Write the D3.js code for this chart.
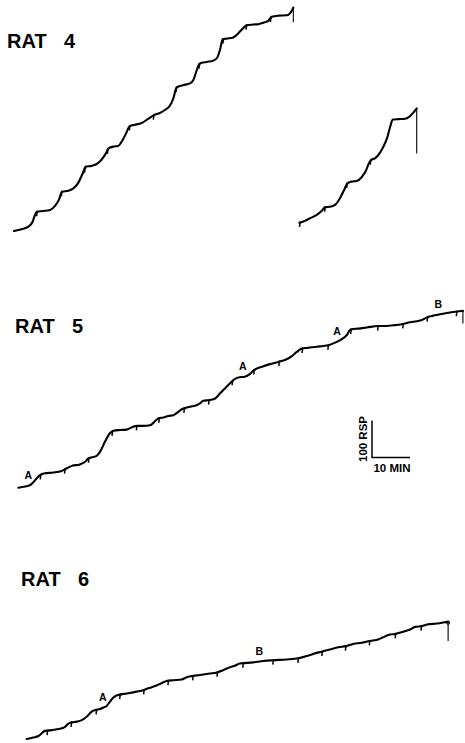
<!DOCTYPE html>
<html>
<head>
<meta charset="utf-8">
<script src="https://cdn.jsdelivr.net/npm/d3@7"></script>
<style>
  body { margin: 0; background: #fff; }
  #container { width: 465px; height: 743px; }
</style>
</head>
<body>
<div id="container"></div>
<script>
// cumulative records: [minutes, responses] measured from the start of each record
const rat4First = [[0,0],[2.0,5],[3.8,12],[4.9,25],[5.5,43],[6.0,52],[7.7,54],[9.5,57],[10.8,68],[11.9,86],[12.6,106],
  [14.3,109],[15.6,115],[16.9,130],[18.1,156],[18.9,174],[20.4,176],[22.2,184],[23.5,199],[24.4,214],[24.8,223],
  [26.1,228],[27.4,230],[28.6,246],[29.5,264],[30.5,284],[31.8,287],[33.6,292],[35.3,303],[36.8,313],[38.4,319],
  [39.7,327],[41.1,340],[41.9,358],[42.8,388],[44.4,394],[46.3,399],[47.2,408],[48.1,435],[48.9,453],[50.7,457],
  [52.4,460],[53.5,469],[54.2,489],[54.9,518],[56.0,520],[57.7,523],[59.0,534],[60.3,548],[61.2,556],[63.0,558],
  [64.3,559],[65.6,563],[66.9,568],[67.8,579],[69.6,582],[71.8,583],[72.4,586],[73.1,595],[73.5,604]];
const rat4FirstPips = [6.1, 12.6, 18.7, 24.7, 30.5, 36.8, 42.8, 48.8, 55.1, 61.2, 67.6];
const rat4FirstReset = 564;

const rat4Second = [[0,0],[1.5,5],[2.8,12],[4.6,21],[5.9,32],[6.8,42],[8.1,43],[9.4,48],[10.7,66],[12.0,93],[12.6,106],
  [13.8,111],[15.1,113],[16.4,123],[17.6,142],[18.2,158],[18.8,169],[19.9,174],[20.8,183],[22.1,205],[23.2,232],
  [23.9,259],[24.6,279],[26.1,280],[27.8,281],[28.9,286],[30.2,300],[30.9,309]];
const rat4SecondPips = [0.2, 6.8, 12.6, 18.8];
const rat4SecondReset = 187;

const rat5 = [[0,0],[1.8,3],[3.1,7],[3.9,14],[4.8,25],[5.7,34],[7.0,39],[9.2,41],[11.4,45],[12.3,50],[14.1,59],
  [16.2,63],[17.6,70],[18.4,79],[20.6,86],[21.5,97],[22.8,124],[24.1,147],[25.0,154],[26.8,156],[28.5,157],
  [29.8,163],[31.2,167],[32.9,167],[34.7,169],[36.0,180],[36.8,187],[38.2,190],[39.5,194],[40.8,196],[42.1,205],
  [43.0,212],[45.2,219],[46.9,223],[47.8,228],[48.7,235],[50.4,237],[51.8,241],[53.1,255],[54.8,273],[55.7,282],
  [56.6,291],[57.9,298],[59.6,300],[60.9,307],[61.8,316],[62.7,322],[64.1,327],[66.2,334],[68.4,340],[70.6,347],
  [71.9,355],[73.3,367],[74.6,376],[76.3,378],[78.5,381],[80.3,383],[81.6,385],[82.9,390],[84.7,399],[86.4,412],
  [87.3,426],[87.7,428],[89.5,430],[91.7,433],[94.7,437],[96.9,437],[98.7,439],[100.9,442],[103.1,447],[104.8,450],
  [106.2,453],[107.9,462],[109.2,465],[111.0,469],[113.2,473],[115.4,476],[117.0,478]];
const rat5Pips = [5.9, 12.3, 18.6, 24.8, 31.2, 37.1, 43.7, 50.2, 56.4, 62.1, 68.7, 74.8, 81.6, 87.6, 94.7, 101.3, 107.7, 115.4];
const rat5Marks = [[2.6, "A"], [59.1, "A"], [83.9, "A"], [110.5, "B"]];
const rat5Reset = 444;

const rat6 = [[0,0],[1.7,4],[3.1,8],[3.9,15],[4.8,22],[6.6,24],[8.3,27],[10.1,33],[10.9,41],[11.8,45],[13.2,47],
  [14.5,51],[15.8,60],[17.1,74],[18.0,78],[19.3,81],[20.2,85],[21.1,90],[21.9,101],[22.8,112],[24.1,119],[26.3,123],
  [28.9,128],[30.7,132],[32.0,137],[33.8,143],[35.1,149],[36.8,157],[38.6,159],[40.8,161],[42.1,167],[43.4,170],
  [45.6,173],[48.2,177],[50.0,180],[51.7,186],[53.5,194],[54.8,198],[56.1,204],[59.6,207],[62.3,211],[64.9,213],
  [68.4,215],[71.5,218],[73.7,224],[75.4,230],[77.6,236],[79.8,242],[82.0,248],[84.0,251],[85.9,257],[88.2,260],
  [90.3,265],[92.5,269],[93.8,275],[95.2,281],[96.9,284],[99.1,290],[100.9,296],[102.2,303],[103.9,305],[105.7,310],
  [107.9,312],[109.6,315],[110.9,317]];
const rat6Pips = [5.5, 11.8, 18.4, 24.6, 30.9, 37.3, 43.8, 50.2, 57.0, 64.9, 71.5, 77.8, 84.0, 90.3, 97.1, 103.9];
const rat6Marks = [[20.0, "A"], [61.2, "B"]];
const rat6Reset = 265;

const titles = [["RAT", "4"], ["RAT", "5"], ["RAT", "6"]];
const scaleMin = 10, scaleRsp = 100;

const W = 465, H = 743;
const svg = d3.select("#container").append("svg")
  .attr("width", W).attr("height", H)
  .style("font-family", "'Liberation Sans', Arial, sans-serif");
svg.append("rect").attr("width", W).attr("height", H).attr("fill", "#fff");

// shared recorder scales (paper speed and pen step)
const x = d3.scaleLinear().domain([0, 10]).range([0, 38]);
const y = d3.scaleLinear().domain([0, 100]).range([0, -37]);

const line = d3.line()
  .x(d => x(d[0])).y(d => y(d[1]))
  .curve(d3.curveMonotoneX);

function respAt(pts, t){
  const i = d3.bisector(d => d[0]).left(pts, t);
  if (i <= 0) return pts[0][1];
  if (i >= pts.length) return pts[pts.length-1][1];
  const a = pts[i-1], b = pts[i];
  return a[1] + (b[1]-a[1]) * (t - a[0]) / (b[0] - a[0]);
}

function drawRecord(pts, pips, reset, ox, oy, marks, endCircle){
  const g = svg.append("g").attr("transform", `translate(${ox},${oy})`);
  g.append("path").datum(pts)
    .attr("d", line)
    .attr("fill", "none").attr("stroke", "#000")
    .attr("stroke-width", 2.1).attr("stroke-linejoin", "round").attr("stroke-linecap", "round");

  g.selectAll("path.pip").data(pips).enter().append("path")
    .attr("class", "pip")
    .attr("d", d => {
      const px = x(d), py = y(respAt(pts, d));
      return `M${px + 1.2},${py + 0.3}L${px},${py}L${px - 0.5},${py + 4.5}`;
    })
    .attr("fill", "none")
    .attr("stroke", "#000").attr("stroke-width", 1.5);

  const last = pts[pts.length-1];
  g.append("line")
    .attr("x1", x(last[0])).attr("y1", y(last[1]))
    .attr("x2", x(last[0])).attr("y2", y(reset))
    .attr("stroke", "#000").attr("stroke-width", 1.1);

  if (endCircle){
    g.append("circle").attr("cx", x(last[0])).attr("cy", y(last[1]) + 1).attr("r", 1.6)
      .attr("fill", "none").attr("stroke", "#000").attr("stroke-width", 1);
  }

  if (marks){
    g.selectAll("text.mark").data(marks).enter().append("text")
      .attr("class", "mark")
      .attr("x", d => x(d[0])).attr("y", d => y(respAt(pts, d[0])) - 7)
      .attr("text-anchor", "middle")
      .attr("font-size", 10.5).attr("font-weight", "bold")
      .text(d => d[1]);
  }
}

drawRecord(rat4First, rat4FirstPips, rat4FirstReset, 14, 231);
drawRecord(rat4Second, rat4SecondPips, rat4SecondReset, 299.3, 222.7);
drawRecord(rat5, rat5Pips, rat5Reset, 18.3, 487.7, rat5Marks);
drawRecord(rat6, rat6Pips, rat6Reset, 26.7, 739, rat6Marks, true);

// titles
const titlePos = [[7, 48], [15, 333], [21, 586]];
titles.forEach((t, i) => {
  const tx = svg.append("text")
    .attr("x", titlePos[i][0]).attr("y", titlePos[i][1])
    .attr("font-size", 20).attr("font-weight", "bold");
  tx.append("tspan").text(t[0]);
  tx.append("tspan").attr("x", titlePos[i][0] + 57).text(t[1]);
});

// scale bar
const sb = svg.append("g").attr("transform", "translate(372,457.5)");
sb.append("path")
  .attr("d", `M${x(0)},${y(scaleRsp)}V${y(0)}H${x(scaleMin)}`)
  .attr("fill", "none").attr("stroke", "#000").attr("stroke-width", 1.5);
sb.append("text")
  .attr("transform", `translate(-5,${y(scaleRsp/2)}) rotate(-90)`)
  .attr("text-anchor", "middle")
  .attr("font-size", 11.5).attr("font-weight", "bold")
  .text(scaleRsp + " RSP");
sb.append("text")
  .attr("x", x(scaleMin/2) + 1).attr("y", 14)
  .attr("text-anchor", "middle")
  .attr("font-size", 11.5).attr("font-weight", "bold")
  .text(scaleMin + " MIN");
</script>
</body>
</html>
